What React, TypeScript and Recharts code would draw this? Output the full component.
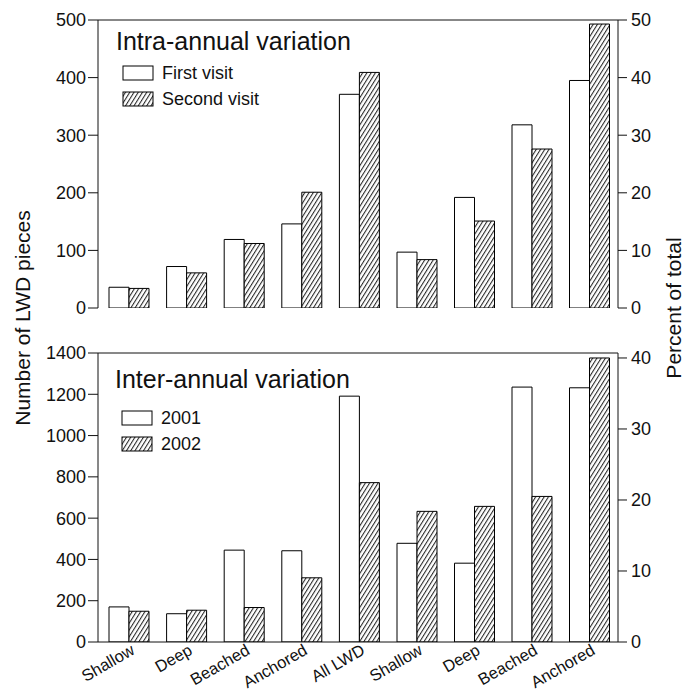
import React from "react";
import { Bar, BarChart, ReferenceLine, XAxis, YAxis } from "recharts";

// categories
const countCats = ["Shallow", "Deep", "Beached", "Anchored", "All LWD"];
const pctCats = ["Shallow", "Deep", "Beached", "Anchored"];

// intra-annual (top panel)
const intraSeries = ["First visit", "Second visit"];
const intraFirstCount = [36, 72, 119, 146, 371];
const intraSecondCount = [34, 61, 112, 201, 409];
const intraFirstPct = [9.7, 19.2, 31.8, 39.5];
const intraSecondPct = [8.4, 15.1, 27.6, 49.3];

// inter-annual (bottom panel)
const interSeries = ["2001", "2002"];
const inter2001Count = [170, 137, 445, 442, 1191];
const inter2002Count = [149, 154, 167, 311, 772];
const inter2001Pct = [13.9, 11.1, 35.9, 35.8];
const inter2002Pct = [18.4, 19.1, 20.5, 40.0];

const intraCountTicks = [0, 100, 200, 300, 400, 500];
const intraPctTicks = [0, 10, 20, 30, 40, 50];
const interCountTicks = [0, 200, 400, 600, 800, 1000, 1200, 1400];
const interPctTicks = [0, 10, 20, 30, 40];

const FONT = "'Liberation Sans', Arial, Helvetica, sans-serif";
const INK = "#111";
const TICK = { fill: INK, fontSize: 18, fontFamily: FONT };

const zip = (cats: string[], a: number[], b: number[]) =>
  cats.map((c, i) => ({ cat: c, a: a[i], b: b[i] }));

function Hatch({ id }: { id: string }) {
  return (
    <defs>
      <pattern
        id={id}
        patternUnits="userSpaceOnUse"
        width={3.6}
        height={3.6}
        patternTransform="rotate(32)"
      >
        <rect width={3.6} height={3.6} fill="#fff" />
        <line x1={0.6} y1={0} x2={0.6} y2={3.6} stroke="#000" strokeWidth={0.9} />
      </pattern>
    </defs>
  );
}

function AngledTick(props: any) {
  const { x, y, payload } = props;
  return (
    <g transform={`translate(${x + 1},${y})`}>
      <text
        transform="rotate(-30)"
        textAnchor="end"
        dy="0.72em"
        fill={INK}
        fontSize={16.5}
        fontFamily={FONT}
      >
        {payload.value}
      </text>
    </g>
  );
}

function CountChart({ data, max, ticks, showX, id }: any) {
  return (
    <BarChart
      width={389}
      height={showX ? 358 : 310}
      data={data}
      margin={{ top: 20, right: 1, left: 0, bottom: showX ? 0 : 2 }}
      barSize={20}
      barGap={0}
    >
      <Hatch id={id} />
      <XAxis
        dataKey="cat"
        interval={0}
        tick={showX ? <AngledTick /> : false}
        tickLine={false}
        tickSize={0}
        tickMargin={1}
        height={showX ? 49 : 0}
        axisLine={{ stroke: INK }}
        padding={{ left: 2, right: 0 }}
      />
      <YAxis
        domain={[0, max]}
        ticks={ticks}
        interval={0}
        width={98}
        tickSize={10}
        tickMargin={2}
        axisLine={{ stroke: INK }}
        tickLine={{ stroke: INK }}
        tick={TICK}
        allowDataOverflow
      />
      <ReferenceLine y={max} stroke={INK} />
      <Bar dataKey="a" fill="#fff" stroke="#000" strokeWidth={1} isAnimationActive={false} />
      <Bar dataKey="b" fill={`url(#${id})`} stroke="#000" strokeWidth={1} isAnimationActive={false} />
    </BarChart>
  );
}

function PctChart({ data, max, ticks, showX, id }: any) {
  return (
    <BarChart
      width={299}
      height={showX ? 358 : 310}
      data={data}
      margin={{ top: 20, right: 0, left: 1, bottom: showX ? 0 : 2 }}
      barSize={20}
      barGap={0}
    >
      <Hatch id={id} />
      <XAxis
        dataKey="cat"
        interval={0}
        tick={showX ? <AngledTick /> : false}
        tickLine={false}
        tickSize={0}
        tickMargin={1}
        height={showX ? 49 : 0}
        axisLine={{ stroke: INK }}
      />
      <YAxis yAxisId="sep" width={0} tick={false} tickLine={false} axisLine={{ stroke: INK }} />
      <YAxis
        yAxisId="pct"
        orientation="right"
        domain={[0, max]}
        ticks={ticks}
        interval={0}
        width={68}
        tickSize={9}
        tickMargin={4}
        axisLine={{ stroke: INK }}
        tickLine={{ stroke: INK }}
        tick={{ ...TICK, textAnchor: "start" }}
        allowDataOverflow
      />
      <ReferenceLine yAxisId="pct" y={max} stroke={INK} />
      <Bar yAxisId="pct" dataKey="a" fill="#fff" stroke="#000" strokeWidth={1} isAnimationActive={false} />
      <Bar yAxisId="pct" dataKey="b" fill={`url(#${id})`} stroke="#000" strokeWidth={1} isAnimationActive={false} />
    </BarChart>
  );
}

function LegendBlock({ x, y, names, title, titleY, id }: any) {
  return (
    <g>
      <text x={x - 7} y={titleY} fontSize={25} fontFamily={FONT} fill={INK}>
        {title}
      </text>
      {names.map((n: string, i: number) => (
        <g key={n}>
          <rect
            x={x}
            y={y + i * 26}
            width={30}
            height={14}
            fill={i === 0 ? "#fff" : `url(#${id})`}
            stroke="#000"
          />
          <text x={x + 39} y={y + i * 26 + 13} fontSize={18} fontFamily={FONT} fill={INK}>
            {n}
          </text>
        </g>
      ))}
    </g>
  );
}

export default function App() {
  const intraCount = zip(countCats, intraFirstCount, intraSecondCount);
  const intraPct = zip(pctCats, intraFirstPct, intraSecondPct);
  const interCount = zip(countCats, inter2001Count, inter2002Count);
  const interPct = zip(pctCats, inter2001Pct, inter2002Pct);

  return (
    <div style={{ position: "absolute", left: 0, top: 0, width: 686, height: 691, background: "#fff", overflow: "hidden" }}>
      <style>{".recharts-surface{overflow:visible}"}</style>
      <div style={{ position: "absolute", left: 0, top: 0 }}>
        <CountChart data={intraCount} max={500} ticks={intraCountTicks} showX={false} id="h1" />
      </div>
      <div style={{ position: "absolute", left: 387, top: 0 }}>
        <PctChart data={intraPct} max={50} ticks={intraPctTicks} showX={false} id="h2" />
      </div>
      <div style={{ position: "absolute", left: 0, top: 333 }}>
        <CountChart data={interCount} max={1400} ticks={interCountTicks} showX id="h3" />
      </div>
      <div style={{ position: "absolute", left: 387, top: 333 }}>
        <PctChart data={interPct} max={40.7} ticks={interPctTicks} showX id="h4" />
      </div>
      <svg
        width={686}
        height={691}
        style={{ position: "absolute", left: 0, top: 0, pointerEvents: "none" }}
      >
        <Hatch id="hl" />
        <LegendBlock x={123} y={66} names={intraSeries} title="Intra-annual variation" titleY={50} id="hl" />
        <LegendBlock x={122} y={411} names={interSeries} title="Inter-annual variation" titleY={388} id="hl" />
        <text
          transform="translate(30,318) rotate(-90)"
          textAnchor="middle"
          fontSize={21}
          fontFamily={FONT}
          fill={INK}
        >
          Number of LWD pieces
        </text>
        <text
          transform="translate(681,308) rotate(-90)"
          textAnchor="middle"
          fontSize={21}
          fontFamily={FONT}
          fill={INK}
        >
          Percent of total
        </text>
      </svg>
    </div>
  );
}
